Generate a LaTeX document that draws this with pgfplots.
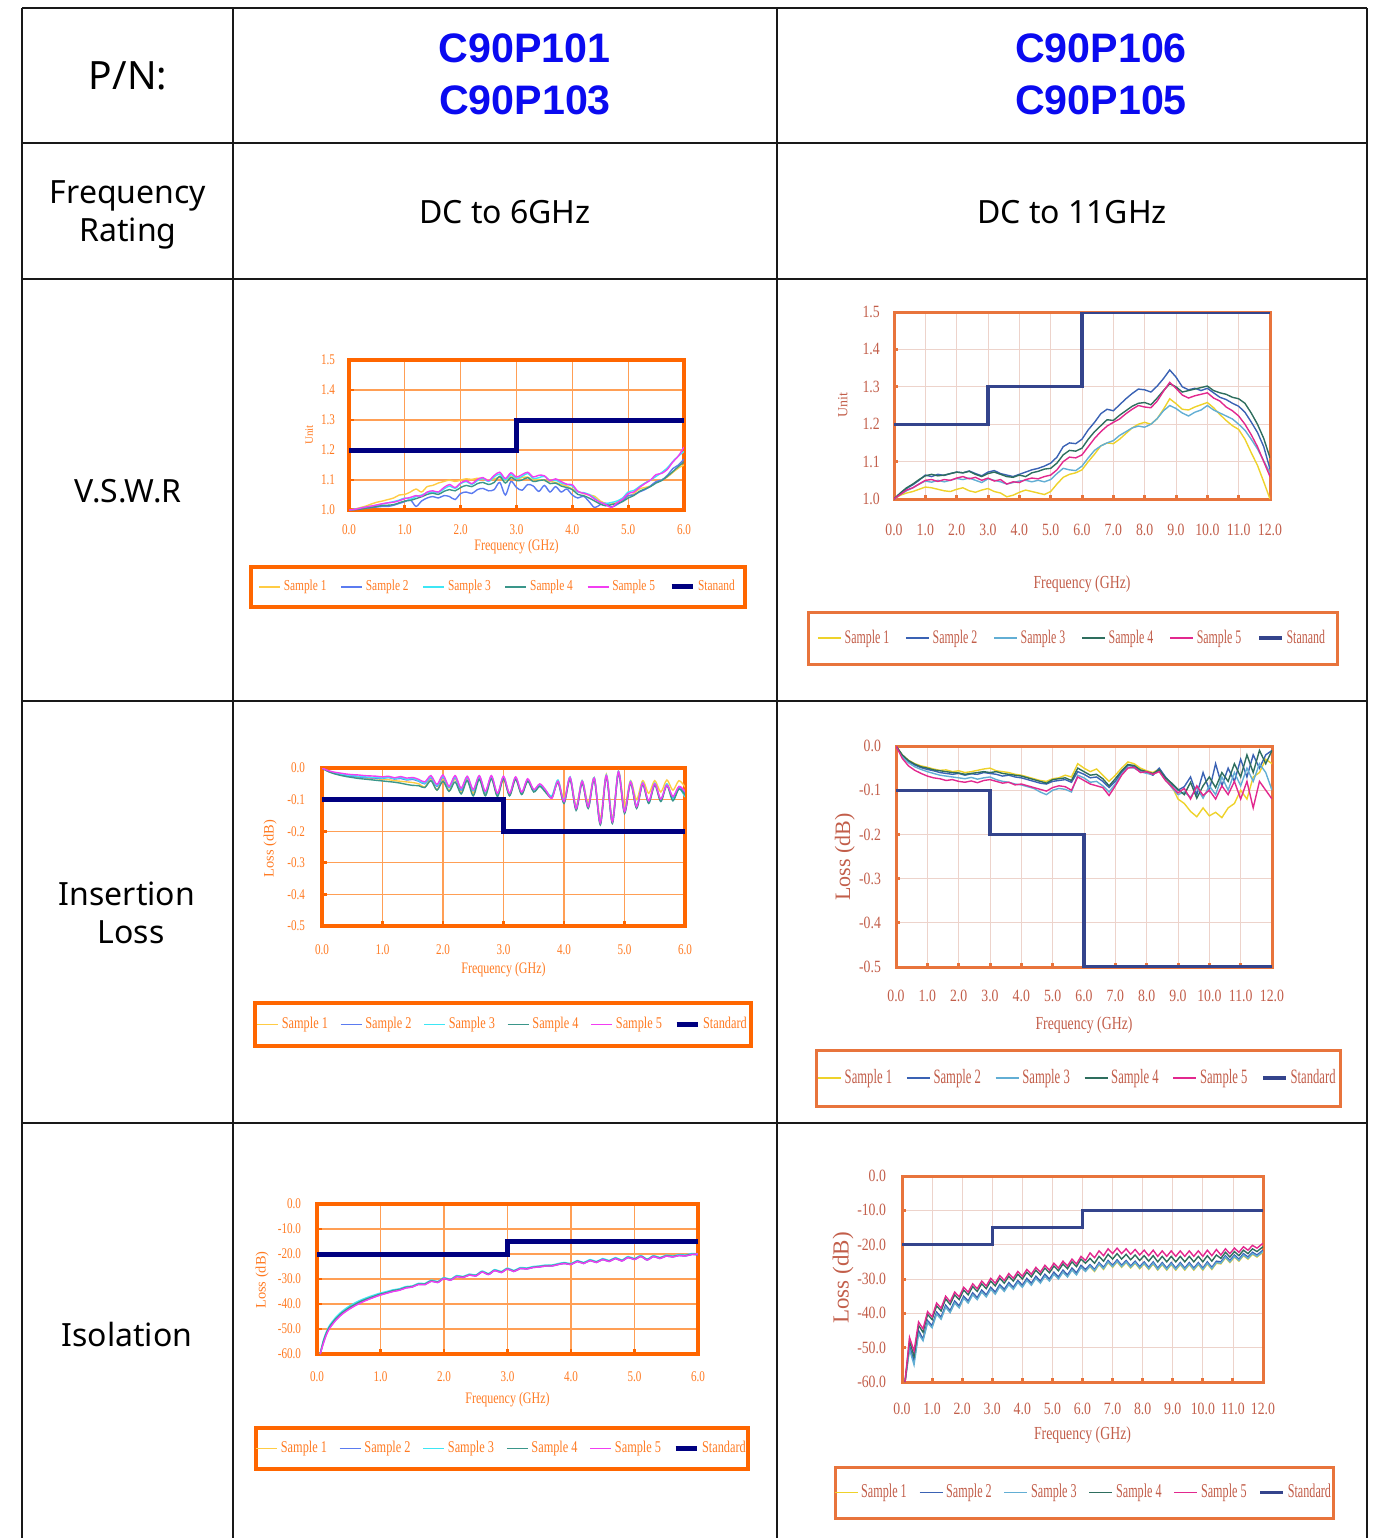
\documentclass[border=0pt]{standalone}
\usepackage{fontspec}
\setmainfont{Noto Sans}
\newfontfamily\pnfont{Liberation Sans}
\newfontfamily\cfa[FakeStretch=0.75]{Liberation Serif}
\newfontfamily\cfb[FakeStretch=0.8]{Liberation Serif}
\newfontfamily\cfc[FakeStretch=0.62]{Liberation Serif}
\newfontfamily\cfn{Liberation Serif}
\usepackage{pgfplots}
\usepackage{pgfplotstable}
\pgfplotsset{compat=1.18}

\newcommand\fs[1]{\fontsize{#1}{#1}\selectfont}
\def\pxu{0.5pt}

\definecolor{lfr}{HTML}{FF6600}
\definecolor{lgrid}{HTML}{FF9F55}
\definecolor{ltxt}{HTML}{FF7A22}
\definecolor{la}{HTML}{FFCC44}
\definecolor{lb}{HTML}{5B7BF0}
\definecolor{lc}{HTML}{3DE6F5}
\definecolor{ld}{HTML}{3A968A}
\definecolor{le}{HTML}{F23DF2}
\definecolor{lstd}{HTML}{000080}
\definecolor{rfr}{HTML}{E8743C}
\definecolor{rgrid}{HTML}{EDD3CB}
\definecolor{rtxt}{HTML}{C25E4A}
\definecolor{ra}{HTML}{EED22A}
\definecolor{rb}{HTML}{3A62B4}
\definecolor{rc}{HTML}{62AED4}
\definecolor{rd}{HTML}{2E6E5E}
\definecolor{re}{HTML}{E2288E}
\definecolor{rstd}{HTML}{34448C}
\definecolor{pnblue}{HTML}{0A0AF0}

\pgfplotsset{
  chart/.style={
    scale only axis, grid=major, tick align=inside, tick pos=left,
    /pgf/number format/fixed, /pgf/number format/fixed zerofill,
    /pgf/number format/precision=1, /pgf/number format/assume math mode=true,
    legend columns=6,
    every axis plot/.append style={no marks, line width=0.7pt},
  },
  lch/.style={chart,
    axis line style={lfr,line width=2pt},
    grid style={lgrid,line width=0.6pt},
    major tick length=2.5pt, tick style={lfr,line width=1.4pt},
    xmin=0, xmax=6, xtick={0,1,...,6},
    xticklabel style={font=\cfa\fs{7.4}, text=ltxt},
    yticklabel style={font=\cfa\fs{7.4}, text=ltxt},
    xlabel style={font=\cfa\fs{8}, text=ltxt, anchor=center},
    ylabel style={font=\cfn\fs{7.2}, text=ltxt, anchor=center},
    legend style={draw=none, fill=none, anchor=center, font=\cfa\fs{7.6}, text=ltxt,
      inner sep=0pt, nodes={inner xsep=1.5pt, inner ysep=1pt},
      /tikz/every even column/.append style={column sep=5.5pt}},
    legend image code/.code={\draw[##1,line cap=butt] (0pt,0pt) -- (10.5pt,0pt);},
  },
  rch/.style={chart,
    axis line style={rfr,line width=1.5pt},
    grid style={rgrid,line width=0.4pt},
    major tick length=2pt, tick style={rfr,line width=1.5pt},
    xmin=0, xmax=12, xtick={0,1,...,12},
    xticklabel style={font=\cfb\fs{8.6}, text=rtxt},
    yticklabel style={font=\cfb\fs{8.6}, text=rtxt},
    xlabel style={font=\cfa\fs{9.2}, text=rtxt, anchor=center},
    ylabel style={font=\cfn\fs{9.4}, text=rtxt, anchor=center},
    legend style={draw=none, fill=none, anchor=center, font=\cfc\fs{9.6}, text=rtxt,
      inner sep=0pt, nodes={inner xsep=1.5pt, inner ysep=1pt},
      /tikz/every even column/.append style={column sep=6.5pt}},
    legend image code/.code={\draw[##1,line cap=butt] (0pt,0pt) -- (11.5pt,0pt);},
  },
}

% V.S.W.R, DC to 6GHz
\pgfplotstableread{
x a b c d e
0.0 1.000 1.000 1.000 1.000 1.000
0.1 1.003 1.002 1.002 1.001 1.002
0.2 1.008 1.004 1.006 1.003 1.006
0.3 1.013 1.006 1.010 1.006 1.010
0.4 1.020 1.008 1.013 1.009 1.013
0.5 1.026 1.010 1.016 1.012 1.017
0.6 1.030 1.012 1.020 1.015 1.021
0.7 1.035 1.012 1.024 1.016 1.024
0.8 1.040 1.016 1.028 1.018 1.026
0.9 1.050 1.022 1.033 1.024 1.031
1.0 1.052 1.028 1.040 1.030 1.038
1.1 1.060 1.034 1.036 1.032 1.042
1.2 1.070 1.012 1.045 1.038 1.048
1.3 1.060 1.030 1.050 1.044 1.046
1.4 1.078 1.040 1.058 1.052 1.060
1.5 1.082 1.045 1.060 1.056 1.064
1.6 1.090 1.040 1.058 1.052 1.060
1.7 1.095 1.048 1.070 1.062 1.075
1.8 1.100 1.045 1.080 1.068 1.085
1.9 1.095 1.035 1.072 1.064 1.075
2.0 1.100 1.055 1.088 1.075 1.090
2.1 1.104 1.060 1.095 1.082 1.098
2.2 1.102 1.055 1.085 1.078 1.088
2.3 1.106 1.068 1.098 1.088 1.102
2.4 1.104 1.072 1.105 1.092 1.108
2.5 1.100 1.064 1.095 1.085 1.098
2.6 1.104 1.068 1.110 1.092 1.115
2.7 1.108 1.092 1.120 1.112 1.126
2.8 1.098 1.050 1.100 1.090 1.105
2.9 1.112 1.095 1.118 1.108 1.124
3.0 1.105 1.075 1.105 1.098 1.110
3.1 1.108 1.066 1.112 1.100 1.118
3.2 1.110 1.085 1.122 1.108 1.126
3.3 1.100 1.080 1.105 1.095 1.110
3.4 1.102 1.062 1.108 1.098 1.116
3.5 1.098 1.082 1.112 1.100 1.114
3.6 1.095 1.060 1.098 1.088 1.098
3.7 1.092 1.078 1.100 1.090 1.104
3.8 1.085 1.060 1.090 1.080 1.095
3.9 1.080 1.070 1.085 1.075 1.086
4.0 1.070 1.050 1.080 1.068 1.084
4.1 1.062 1.040 1.060 1.052 1.062
4.2 1.055 1.046 1.058 1.048 1.056
4.3 1.050 1.028 1.052 1.040 1.050
4.4 1.046 1.008 1.040 1.030 1.036
4.5 1.030 1.018 1.025 1.020 1.026
4.6 1.022 1.022 1.022 1.014 1.018
4.7 1.020 1.010 1.025 1.018 1.008
4.8 1.025 1.018 1.030 1.022 1.024
4.9 1.035 1.030 1.040 1.028 1.036
5.0 1.045 1.048 1.060 1.040 1.055
5.1 1.055 1.050 1.065 1.048 1.060
5.2 1.070 1.060 1.078 1.062 1.075
5.3 1.075 1.068 1.090 1.070 1.088
5.4 1.080 1.080 1.100 1.078 1.100
5.5 1.092 1.095 1.112 1.090 1.118
5.6 1.100 1.100 1.125 1.098 1.122
5.7 1.110 1.115 1.140 1.112 1.135
5.8 1.125 1.138 1.162 1.128 1.160
5.9 1.140 1.150 1.180 1.145 1.180
6.0 1.150 1.170 1.195 1.160 1.210
}\tvl

% V.S.W.R, DC to 11GHz
\pgfplotstableread{
x a b c d e
0.0 1.000 1.000 1.000 1.000 1.000
0.2 1.010 1.015 1.012 1.016 1.012
0.4 1.016 1.028 1.022 1.030 1.024
0.6 1.020 1.038 1.030 1.040 1.030
0.8 1.026 1.050 1.040 1.052 1.040
1.0 1.032 1.064 1.048 1.062 1.050
1.2 1.030 1.060 1.045 1.066 1.052
1.4 1.026 1.066 1.050 1.062 1.047
1.6 1.022 1.063 1.046 1.064 1.052
1.8 1.020 1.068 1.050 1.068 1.050
2.0 1.026 1.072 1.055 1.072 1.056
2.2 1.030 1.070 1.052 1.070 1.060
2.4 1.022 1.075 1.056 1.074 1.054
2.6 1.018 1.068 1.050 1.066 1.058
2.8 1.024 1.062 1.044 1.060 1.050
3.0 1.028 1.072 1.054 1.068 1.056
3.2 1.020 1.076 1.050 1.072 1.048
3.4 1.016 1.068 1.046 1.066 1.052
3.6 1.006 1.064 1.040 1.060 1.040
3.8 1.010 1.060 1.044 1.058 1.046
4.0 1.018 1.066 1.048 1.064 1.044
4.2 1.024 1.072 1.050 1.060 1.052
4.4 1.020 1.078 1.046 1.070 1.056
4.6 1.016 1.082 1.050 1.074 1.054
4.8 1.012 1.088 1.046 1.080 1.060
5.0 1.020 1.096 1.052 1.082 1.064
5.2 1.040 1.112 1.068 1.096 1.078
5.4 1.058 1.140 1.082 1.118 1.100
5.6 1.066 1.150 1.078 1.130 1.112
5.8 1.070 1.148 1.076 1.128 1.110
6.0 1.078 1.160 1.088 1.136 1.118
6.2 1.100 1.185 1.110 1.160 1.140
6.4 1.120 1.205 1.130 1.180 1.162
6.6 1.142 1.228 1.142 1.196 1.180
6.8 1.150 1.240 1.150 1.212 1.195
7.0 1.148 1.236 1.156 1.210 1.205
7.2 1.160 1.252 1.170 1.224 1.214
7.4 1.175 1.268 1.180 1.236 1.228
7.6 1.190 1.282 1.190 1.248 1.240
7.8 1.200 1.294 1.195 1.256 1.250
8.0 1.205 1.292 1.192 1.258 1.246
8.2 1.200 1.286 1.200 1.252 1.244
8.4 1.215 1.302 1.215 1.270 1.262
8.6 1.240 1.322 1.236 1.290 1.288
8.8 1.268 1.345 1.250 1.308 1.312
9.0 1.255 1.326 1.242 1.300 1.296
9.2 1.240 1.300 1.230 1.286 1.278
9.4 1.238 1.292 1.222 1.290 1.270
9.6 1.246 1.296 1.232 1.294 1.276
9.8 1.252 1.290 1.238 1.298 1.280
10.0 1.258 1.296 1.250 1.302 1.284
10.2 1.244 1.284 1.238 1.290 1.270
10.4 1.226 1.272 1.230 1.284 1.262
10.6 1.210 1.266 1.222 1.280 1.246
10.8 1.196 1.256 1.214 1.272 1.236
11.0 1.186 1.248 1.200 1.268 1.222
11.2 1.160 1.232 1.184 1.256 1.200
11.4 1.124 1.206 1.160 1.230 1.172
11.6 1.090 1.178 1.134 1.200 1.140
11.8 1.046 1.140 1.102 1.162 1.100
12.0 1.000 1.080 1.070 1.110 1.060
}\tvr

% Insertion loss, DC to 6GHz
\pgfplotstableread{
x a b c d e
0.0 0 0 0 0 0
0.1 -0.010 -0.010 -0.009 -0.011 -0.008
0.2 -0.016 -0.017 -0.015 -0.018 -0.013
0.3 -0.020 -0.021 -0.019 -0.023 -0.016
0.4 -0.024 -0.024 -0.022 -0.027 -0.019
0.5 -0.027 -0.026 -0.024 -0.030 -0.021
0.6 -0.029 -0.028 -0.026 -0.033 -0.022
0.7 -0.031 -0.030 -0.028 -0.035 -0.024
0.8 -0.033 -0.031 -0.029 -0.037 -0.025
0.9 -0.034 -0.032 -0.030 -0.039 -0.026
1.0 -0.036 -0.033 -0.032 -0.041 -0.028
1.1 -0.037 -0.030 -0.029 -0.043 -0.026
1.2 -0.040 -0.035 -0.034 -0.045 -0.031
1.3 -0.042 -0.033 -0.030 -0.048 -0.027
1.4 -0.044 -0.038 -0.036 -0.052 -0.032
1.5 -0.046 -0.036 -0.033 -0.055 -0.030
1.6 -0.050 -0.042 -0.040 -0.056 -0.036
1.7 -0.060 -0.050 -0.048 -0.062 -0.044
1.8 -0.035 -0.030 -0.028 -0.040 -0.024
1.9 -0.070 -0.058 -0.055 -0.070 -0.052
2.0 -0.032 -0.028 -0.026 -0.042 -0.022
2.1 -0.072 -0.062 -0.060 -0.074 -0.058
2.2 -0.034 -0.030 -0.028 -0.044 -0.024
2.3 -0.078 -0.070 -0.066 -0.082 -0.064
2.4 -0.036 -0.030 -0.028 -0.040 -0.026
2.5 -0.080 -0.072 -0.070 -0.088 -0.068
2.6 -0.032 -0.028 -0.026 -0.036 -0.024
2.7 -0.084 -0.078 -0.076 -0.088 -0.074
2.8 -0.030 -0.028 -0.026 -0.034 -0.024
2.9 -0.088 -0.084 -0.082 -0.090 -0.080
3.0 -0.032 -0.030 -0.028 -0.034 -0.026
3.1 -0.086 -0.084 -0.082 -0.088 -0.080
3.2 -0.034 -0.032 -0.030 -0.036 -0.028
3.3 -0.082 -0.080 -0.078 -0.084 -0.076
3.4 -0.040 -0.038 -0.036 -0.042 -0.034
3.5 -0.074 -0.072 -0.070 -0.076 -0.068
3.6 -0.056 -0.054 -0.052 -0.058 -0.050
3.7 -0.076 -0.074 -0.072 -0.078 -0.070
3.8 -0.090 -0.092 -0.088 -0.094 -0.096
3.9 -0.040 -0.044 -0.038 -0.046 -0.042
4.0 -0.100 -0.110 -0.104 -0.112 -0.106
4.1 -0.030 -0.032 -0.028 -0.036 -0.030
4.2 -0.120 -0.130 -0.126 -0.134 -0.128
4.3 -0.040 -0.044 -0.040 -0.048 -0.042
4.4 -0.110 -0.124 -0.120 -0.128 -0.122
4.5 -0.030 -0.034 -0.030 -0.036 -0.032
4.6 -0.160 -0.176 -0.172 -0.180 -0.174
4.7 -0.020 -0.026 -0.022 -0.028 -0.024
4.8 -0.160 -0.170 -0.166 -0.176 -0.170
4.9 -0.010 -0.014 -0.010 -0.016 -0.012
5.0 -0.120 -0.140 -0.136 -0.144 -0.138
5.1 -0.040 -0.046 -0.042 -0.048 -0.044
5.2 -0.100 -0.124 -0.120 -0.128 -0.122
5.3 -0.040 -0.050 -0.046 -0.052 -0.048
5.4 -0.080 -0.108 -0.110 -0.112 -0.104
5.5 -0.040 -0.050 -0.048 -0.054 -0.050
5.6 -0.076 -0.100 -0.104 -0.106 -0.098
5.7 -0.038 -0.052 -0.050 -0.056 -0.054
5.8 -0.070 -0.094 -0.100 -0.104 -0.090
5.9 -0.040 -0.060 -0.064 -0.066 -0.058
6.0 -0.060 -0.080 -0.092 -0.086 -0.074
}\til

% Insertion loss, DC to 11GHz
\pgfplotstableread{
x a b c d e
0.0 0 0 0 0 0
0.2 -0.020 -0.022 -0.024 -0.020 -0.028
0.4 -0.032 -0.035 -0.038 -0.033 -0.045
0.6 -0.040 -0.043 -0.047 -0.041 -0.055
0.8 -0.045 -0.049 -0.053 -0.047 -0.062
1.0 -0.048 -0.053 -0.058 -0.050 -0.068
1.2 -0.052 -0.056 -0.062 -0.054 -0.072
1.4 -0.055 -0.060 -0.066 -0.056 -0.074
1.6 -0.054 -0.062 -0.068 -0.058 -0.078
1.8 -0.058 -0.064 -0.070 -0.060 -0.076
2.0 -0.056 -0.062 -0.072 -0.061 -0.080
2.2 -0.060 -0.066 -0.074 -0.064 -0.082
2.4 -0.058 -0.063 -0.071 -0.062 -0.079
2.6 -0.055 -0.064 -0.075 -0.060 -0.083
2.8 -0.052 -0.060 -0.072 -0.058 -0.078
3.0 -0.050 -0.062 -0.070 -0.060 -0.076
3.2 -0.056 -0.064 -0.076 -0.058 -0.080
3.4 -0.058 -0.068 -0.080 -0.062 -0.084
3.6 -0.060 -0.066 -0.082 -0.064 -0.082
3.8 -0.064 -0.070 -0.086 -0.066 -0.088
4.0 -0.066 -0.072 -0.088 -0.068 -0.086
4.2 -0.070 -0.076 -0.092 -0.072 -0.090
4.4 -0.074 -0.080 -0.096 -0.076 -0.094
4.6 -0.078 -0.084 -0.104 -0.080 -0.098
4.8 -0.080 -0.086 -0.110 -0.084 -0.102
5.0 -0.074 -0.080 -0.100 -0.076 -0.094
5.2 -0.072 -0.078 -0.096 -0.074 -0.090
5.4 -0.066 -0.076 -0.098 -0.072 -0.092
5.6 -0.070 -0.082 -0.104 -0.078 -0.100
5.8 -0.040 -0.058 -0.066 -0.050 -0.070
6.0 -0.050 -0.064 -0.072 -0.058 -0.078
6.2 -0.058 -0.072 -0.082 -0.066 -0.086
6.4 -0.052 -0.070 -0.080 -0.064 -0.090
6.6 -0.066 -0.080 -0.090 -0.074 -0.094
6.8 -0.080 -0.094 -0.104 -0.090 -0.112
7.0 -0.066 -0.080 -0.086 -0.074 -0.090
7.2 -0.050 -0.060 -0.064 -0.056 -0.066
7.4 -0.036 -0.044 -0.048 -0.042 -0.050
7.6 -0.040 -0.046 -0.050 -0.044 -0.048
7.8 -0.050 -0.056 -0.058 -0.054 -0.060
8.0 -0.056 -0.060 -0.062 -0.058 -0.058
8.2 -0.060 -0.066 -0.064 -0.062 -0.064
8.4 -0.052 -0.050 -0.056 -0.054 -0.058
8.6 -0.074 -0.070 -0.076 -0.072 -0.078
8.8 -0.090 -0.086 -0.094 -0.084 -0.092
9.0 -0.120 -0.100 -0.110 -0.098 -0.106
9.2 -0.130 -0.092 -0.104 -0.110 -0.096
9.4 -0.148 -0.070 -0.116 -0.082 -0.120
9.6 -0.160 -0.110 -0.094 -0.118 -0.090
9.8 -0.140 -0.060 -0.118 -0.090 -0.112
10.0 -0.158 -0.100 -0.090 -0.070 -0.100
10.2 -0.150 -0.040 -0.110 -0.094 -0.120
10.4 -0.162 -0.090 -0.070 -0.060 -0.090
10.6 -0.140 -0.050 -0.100 -0.080 -0.110
10.8 -0.130 -0.080 -0.060 -0.040 -0.080
11.0 -0.100 -0.030 -0.090 -0.070 -0.120
11.2 -0.120 -0.070 -0.050 -0.020 -0.080
11.4 -0.070 -0.020 -0.080 -0.060 -0.140
11.6 -0.060 -0.050 -0.040 -0.010 -0.080
11.8 -0.030 -0.020 -0.060 -0.040 -0.100
12.0 -0.040 -0.010 -0.100 -0.010 -0.120
}\tir

% Isolation, DC to 6GHz
\pgfplotstableread{
x a b c d e
0.05 -60 -60 -60 -60 -60
0.1 -55.0 -55.5 -54.5 -55.0 -55.8
0.15 -51.5 -52.0 -51.0 -51.5 -52.2
0.2 -49.0 -49.5 -48.5 -49.0 -49.7
0.3 -45.8 -46.2 -45.2 -45.8 -46.4
0.4 -43.4 -43.8 -42.8 -43.4 -44.0
0.5 -41.6 -42.0 -41.0 -41.6 -42.2
0.6 -40.1 -40.5 -39.5 -40.1 -40.7
0.7 -38.8 -39.2 -38.3 -38.8 -39.4
0.8 -37.8 -38.1 -37.3 -37.8 -38.3
0.9 -36.9 -37.2 -36.4 -36.9 -37.3
1.0 -36.0 -36.3 -35.6 -36.0 -36.4
1.1 -35.4 -35.6 -35.0 -35.4 -35.7
1.2 -34.6 -34.9 -34.3 -34.6 -35.0
1.3 -34.2 -34.4 -33.9 -34.2 -34.5
1.4 -33.2 -33.5 -33.0 -33.3 -33.6
1.5 -33.0 -33.2 -32.8 -33.0 -33.2
1.6 -31.9 -32.1 -31.7 -32.0 -32.2
1.7 -32.0 -32.2 -31.8 -32.0 -32.3
1.8 -30.6 -30.8 -30.4 -30.7 -30.9
1.9 -31.2 -31.4 -31.0 -31.2 -31.4
2.0 -29.6 -29.8 -29.4 -29.7 -29.8
2.1 -30.3 -30.5 -30.1 -30.3 -30.5
2.2 -28.8 -29.0 -28.6 -28.9 -29.0
2.3 -29.2 -29.4 -29.0 -29.2 -29.4
2.4 -28.2 -28.4 -28.0 -28.3 -28.4
2.5 -28.6 -28.8 -28.4 -28.6 -28.8
2.6 -27.0 -27.2 -26.8 -27.1 -27.2
2.7 -28.0 -28.2 -27.8 -28.0 -28.2
2.8 -26.4 -26.6 -26.2 -26.5 -26.6
2.9 -27.2 -27.4 -27.0 -27.2 -27.4
3.0 -25.8 -26.0 -25.6 -25.9 -26.0
3.1 -26.8 -27.0 -26.6 -26.8 -27.0
3.2 -25.6 -25.8 -25.4 -25.7 -25.8
3.3 -25.8 -26.0 -25.6 -25.8 -26.0
3.4 -25.2 -25.4 -25.0 -25.3 -25.4
3.5 -25.0 -25.2 -24.8 -25.0 -25.2
3.6 -24.6 -24.8 -24.4 -24.7 -24.8
3.7 -24.6 -24.8 -24.4 -24.6 -24.8
3.8 -24.0 -24.2 -23.8 -24.1 -24.2
3.9 -23.6 -23.8 -23.4 -23.6 -23.8
4.0 -24.0 -24.2 -23.8 -24.1 -24.2
4.1 -22.8 -23.0 -22.6 -22.8 -23.0
4.2 -23.6 -23.8 -23.4 -23.6 -23.8
4.3 -22.4 -22.6 -22.2 -22.5 -22.6
4.4 -23.2 -23.4 -23.0 -23.2 -23.4
4.5 -22.0 -22.2 -21.8 -22.1 -22.2
4.6 -22.8 -23.0 -22.6 -22.8 -23.0
4.7 -21.6 -21.8 -21.4 -21.7 -21.8
4.8 -22.6 -22.8 -22.4 -22.6 -22.8
4.9 -21.2 -21.4 -21.0 -21.3 -21.4
5.0 -22.0 -22.2 -21.8 -22.0 -22.2
5.1 -20.8 -21.0 -20.6 -20.9 -21.0
5.2 -22.2 -22.4 -22.0 -22.2 -22.4
5.3 -20.8 -21.0 -20.6 -20.9 -21.0
5.4 -21.6 -21.8 -21.4 -21.6 -21.8
5.5 -20.6 -20.8 -20.4 -20.7 -20.8
5.6 -21.0 -21.2 -20.8 -21.0 -21.2
5.7 -20.4 -20.6 -20.2 -20.5 -20.6
5.8 -20.6 -20.8 -20.4 -20.6 -20.8
5.9 -20.0 -20.2 -19.8 -20.1 -20.2
6.0 -20.2 -20.4 -20.0 -20.2 -20.0
}\tsl

% Isolation, DC to 11GHz
\pgfplotstableread{
x a b c d e
0.10 -60.0 -60.0 -60.0 -60.0 -60.0
0.25 -50.0 -49.5 -50.5 -48.0 -47.0
0.40 -53.5 -54.0 -55.0 -52.5 -51.0
0.55 -45.5 -45.0 -46.0 -43.5 -42.5
0.70 -47.5 -47.5 -48.0 -45.5 -44.5
0.85 -42.5 -42.1 -42.7 -40.3 -39.5
1.00 -44.0 -43.6 -44.2 -41.8 -41.0
1.15 -40.0 -39.6 -40.2 -37.8 -37.0
1.30 -41.5 -41.1 -41.7 -39.3 -38.5
1.45 -38.0 -37.6 -38.2 -35.8 -35.0
1.60 -39.6 -39.2 -39.8 -37.4 -36.6
1.75 -36.8 -36.4 -37.0 -34.6 -33.8
1.90 -38.2 -37.8 -38.4 -36.0 -35.2
2.05 -35.4 -35.0 -35.6 -33.2 -32.4
2.20 -36.8 -36.4 -37.0 -34.6 -33.8
2.35 -34.4 -34.0 -34.6 -32.2 -31.4
2.50 -35.8 -35.4 -36.0 -33.6 -32.8
2.65 -33.6 -33.2 -33.8 -31.4 -30.6
2.80 -35.0 -34.6 -35.2 -32.8 -32.0
2.95 -32.8 -32.4 -33.0 -30.6 -29.8
3.10 -34.2 -33.8 -34.4 -32.0 -31.2
3.25 -32.0 -31.6 -32.2 -29.8 -29.0
3.40 -33.4 -33.0 -33.6 -31.2 -30.4
3.55 -31.4 -31.0 -31.6 -29.2 -28.4
3.70 -32.8 -32.4 -33.0 -30.6 -29.8
3.85 -30.8 -30.4 -31.0 -28.6 -27.8
4.00 -32.2 -31.8 -32.4 -30.0 -29.2
4.15 -30.2 -29.8 -30.4 -28.0 -27.2
4.30 -31.6 -31.2 -31.8 -29.4 -28.6
4.45 -29.6 -29.2 -29.8 -27.4 -26.6
4.60 -31.0 -30.6 -31.2 -28.8 -28.0
4.75 -29.0 -28.6 -29.2 -26.8 -26.0
4.90 -30.4 -30.0 -30.6 -28.2 -27.4
5.05 -28.4 -28.0 -28.6 -26.2 -25.4
5.20 -29.8 -29.4 -30.0 -27.6 -26.8
5.35 -27.8 -27.4 -28.0 -25.6 -24.8
5.50 -29.2 -28.8 -29.4 -27.0 -26.2
5.65 -27.2 -26.8 -27.4 -25.0 -24.2
5.80 -28.6 -28.2 -28.8 -26.4 -25.6
5.95 -26.4 -26.0 -26.6 -24.2 -23.4
6.10 -27.6 -27.2 -27.8 -25.4 -24.6
6.25 -26.4 -25.8 -26.2 -24.0 -22.4
6.40 -27.8 -27.2 -27.6 -25.4 -23.8
6.55 -25.8 -25.2 -25.6 -23.4 -21.8
6.70 -27.2 -26.6 -27.0 -24.8 -23.2
6.85 -25.2 -24.6 -25.0 -22.8 -21.2
7.00 -26.6 -26.0 -26.4 -24.2 -22.6
7.15 -25.0 -24.4 -24.8 -22.6 -21.0
7.30 -26.6 -26.0 -26.4 -24.2 -22.6
7.45 -25.2 -24.6 -25.0 -22.8 -21.2
7.60 -26.8 -26.2 -26.6 -24.4 -22.8
7.75 -25.4 -24.8 -25.2 -23.0 -21.4
7.90 -27.0 -26.4 -26.8 -24.6 -23.0
8.05 -25.6 -25.0 -25.4 -23.2 -21.6
8.20 -27.2 -26.6 -27.0 -24.8 -23.2
8.35 -25.6 -25.0 -25.4 -23.2 -21.6
8.50 -27.4 -26.8 -27.2 -25.0 -23.4
8.65 -25.8 -25.2 -25.6 -23.4 -21.8
8.80 -27.4 -26.8 -27.2 -25.0 -23.4
8.95 -25.8 -25.2 -25.6 -23.4 -21.8
9.10 -27.4 -26.8 -27.2 -25.0 -23.4
9.25 -25.8 -25.2 -25.6 -23.4 -21.8
9.40 -27.4 -26.8 -27.2 -25.0 -23.4
9.55 -25.8 -25.2 -25.6 -23.4 -21.8
9.70 -27.4 -26.8 -27.2 -25.0 -23.4
9.85 -25.8 -25.2 -25.6 -23.4 -21.8
10.00 -27.4 -26.8 -27.2 -25.0 -23.4
10.15 -25.6 -25.0 -25.4 -23.2 -21.6
10.30 -27.2 -26.6 -27.0 -24.8 -23.2
10.45 -25.4 -24.8 -25.2 -23.0 -21.4
10.60 -25.6 -25.0 -25.4 -24.0 -23.0
10.75 -23.8 -23.2 -23.6 -22.2 -21.2
10.90 -25.2 -24.6 -25.0 -23.6 -22.6
11.05 -23.6 -23.0 -23.4 -22.0 -21.0
11.20 -24.8 -24.2 -24.6 -23.2 -22.2
11.35 -23.2 -22.6 -23.0 -21.6 -20.6
11.50 -24.2 -23.6 -24.0 -22.6 -21.6
11.65 -22.8 -22.2 -22.6 -21.2 -20.2
11.80 -23.6 -23.0 -23.4 -22.0 -21.0
12.00 -22.2 -21.6 -22.0 -20.6 -19.6
}\tsr

\begin{document}
\begin{tikzpicture}
\useasboundingbox (0,0) rectangle (686pt,-769pt);

\begin{scope}[x=0.5pt,y=-0.5pt]
  % table rules
  \foreach \yy in {8,143,279,701,1123}
    \draw[line width=1pt,black!90] (22,\yy) -- (1367,\yy);
  \foreach \xx in {22,233,777,1367}
    \draw[line width=1pt,black!90] (\xx,8) -- (\xx,1538);
  % header texts
  \node[anchor=base,font=\fs{19.5}] at (128,89) {P/N:};
  \node[anchor=base,font=\pnfont\bfseries\fs{20.6},text=pnblue] at (524.5,62) {C90P101};
  \node[anchor=base,font=\pnfont\bfseries\fs{20.6},text=pnblue] at (525,114) {C90P103};
  \node[anchor=base,font=\pnfont\bfseries\fs{20.6},text=pnblue] at (1101,62) {C90P106};
  \node[anchor=base,font=\pnfont\bfseries\fs{20.6},text=pnblue] at (1101,114) {C90P105};
  \node[anchor=base,font=\fs{16}] at (128,203) {Frequency};
  \node[anchor=base,font=\fs{16}] at (128,241) {Rating};
  \node[anchor=base,font=\fs{16}] at (505,223) {DC to 6GHz};
  \node[anchor=base,font=\fs{16}] at (1072,223) {DC to 11GHz};
  \node[anchor=base,font=\fs{16}] at (128,502) {V.S.W.R};
  \node[anchor=base,font=\fs{16}] at (127,905) {Insertion};
  \node[anchor=base,font=\fs{16}] at (131,943) {Loss};
  \node[anchor=base,font=\fs{16}] at (127,1346) {Isolation};
  % legend frames
  \draw[lfr,line width=2pt] (251,567) rectangle (745,607);
  \draw[rfr,line width=1.5pt] (808,612) rectangle (1337,664);
  \draw[lfr,line width=2pt] (255,1003) rectangle (751,1046);
  \draw[rfr,line width=1.5pt] (816,1050) rectangle (1340,1106);
  \draw[lfr,line width=2pt] (256,1428) rectangle (748,1469);
  \draw[rfr,line width=1.5pt] (835,1467) rectangle (1333,1518);
\end{scope}

% V.S.W.R left
\begin{axis}[lch, at={(349*\pxu,-510*\pxu)}, anchor=south west,
  width=167.5pt, height=75pt,
  ymin=1, ymax=1.5, ytick={1,1.1,1.2,1.3,1.4,1.5},
  xlabel={Frequency (GHz)}, ylabel={Unit},
  xlabel style={at={(axis description cs:0.5,-0.247)}},
  ylabel style={at={(axis description cs:-0.119,0.5)}, font=\cfn\fs{5.6}},
  xticklabel style={yshift=-4pt}, yticklabel style={xshift=-3.5pt},
  legend style={at={(0.445,-0.513)}}]
  \addplot[la, smooth] table[x=x,y=a]{\tvl};
  \addplot[lb, smooth] table[x=x,y=b]{\tvl};
  \addplot[lc, smooth] table[x=x,y=c]{\tvl};
  \addplot[ld, smooth] table[x=x,y=d]{\tvl};
  \addplot[le, smooth] table[x=x,y=e]{\tvl};
  \addplot[lstd, line width=2.5pt] coordinates {(0,1.2) (3,1.2) (3,1.3) (6,1.3)};
  \legend{Sample 1,Sample 2,Sample 3,Sample 4,Sample 5,Stanand}
\end{axis}

% V.S.W.R right
\begin{axis}[rch, at={(894*\pxu,-499*\pxu)}, anchor=south west,
  width=188pt, height=93.5pt,
  ymin=1, ymax=1.5, ytick={1,1.1,1.2,1.3,1.4,1.5},
  xlabel={Frequency (GHz)}, ylabel={Unit},
  xlabel style={at={(axis description cs:0.5,-0.455)}},
  ylabel style={at={(axis description cs:-0.136,0.503)}, font=\cfn\fs{7}},
  xticklabel style={yshift=-9pt}, yticklabel style={xshift=-3.6pt},
  legend style={at={(0.475,-0.743)}}]
  \addplot[ra] table[x=x,y=a]{\tvr};
  \addplot[rb] table[x=x,y=b]{\tvr};
  \addplot[rc] table[x=x,y=c]{\tvr};
  \addplot[rd] table[x=x,y=d]{\tvr};
  \addplot[re] table[x=x,y=e]{\tvr};
  \addplot[rstd, line width=1.6pt] coordinates {(0,1.2) (3,1.2) (3,1.3) (6,1.3) (6,1.5) (12,1.5)};
  \legend{Sample 1,Sample 2,Sample 3,Sample 4,Sample 5,Stanand}
\end{axis}

% Insertion loss left
\begin{axis}[lch, at={(322*\pxu,-926*\pxu)}, anchor=south west,
  width=181.5pt, height=79pt,
  ymin=-0.5, ymax=0, ytick={-0.5,-0.4,-0.3,-0.2,-0.1,0},
  xlabel={Frequency (GHz)}, ylabel={Loss (dB)},
  xlabel style={at={(axis description cs:0.5,-0.278)}},
  ylabel style={at={(axis description cs:-0.143,0.49)}},
  xticklabel style={yshift=-6pt}, yticklabel style={xshift=-5pt},
  legend style={at={(0.499,-0.623)}, font=\cfa\fs{8.2},
    /tikz/every even column/.append style={column sep=4.5pt}}]
  \addplot[la, smooth] table[x=x,y=a]{\til};
  \addplot[lb, smooth] table[x=x,y=b]{\til};
  \addplot[lc, smooth] table[x=x,y=c]{\til};
  \addplot[ld, smooth] table[x=x,y=d]{\til};
  \addplot[le, smooth] table[x=x,y=e]{\til};
  \addplot[lstd, line width=2.5pt] coordinates {(0,-0.1) (3,-0.1) (3,-0.2) (6,-0.2)};
  \legend{Sample 1,Sample 2,Sample 3,Sample 4,Sample 5,Standard}
\end{axis}

% Insertion loss right
\begin{axis}[rch, at={(896*\pxu,-967*\pxu)}, anchor=south west,
  width=188pt, height=110.5pt,
  ymin=-0.5, ymax=0, ytick={-0.5,-0.4,-0.3,-0.2,-0.1,0},
  xlabel={Frequency (GHz)}, ylabel={Loss (dB)},
  xlabel style={at={(axis description cs:0.5,-0.262)}},
  ylabel style={at={(axis description cs:-0.136,0.498)}, font=\cfn\fs{11}},
  xticklabel style={yshift=-8pt}, yticklabel style={xshift=-4pt},
  legend style={at={(0.484,-0.502)}, font=\cfc\fs{10.2},
    /tikz/every even column/.append style={column sep=5.5pt}}]
  \addplot[ra] table[x=x,y=a]{\tir};
  \addplot[rb] table[x=x,y=b]{\tir};
  \addplot[rc] table[x=x,y=c]{\tir};
  \addplot[rd] table[x=x,y=d]{\tir};
  \addplot[re] table[x=x,y=e]{\tir};
  \addplot[rstd, line width=1.6pt] coordinates {(0,-0.1) (3,-0.1) (3,-0.2) (6,-0.2) (6,-0.5) (12,-0.5)};
  \legend{Sample 1,Sample 2,Sample 3,Sample 4,Sample 5,Standard}
\end{axis}

% Isolation left
\begin{axis}[lch, at={(317*\pxu,-1354*\pxu)}, anchor=south west,
  width=190.5pt, height=75pt,
  ymin=-60, ymax=0, ytick={-60,-50,-40,-30,-20,-10,0},
  xlabel={Frequency (GHz)}, ylabel={Loss (dB)},
  xlabel style={at={(axis description cs:0.5,-0.307)}},
  ylabel style={at={(axis description cs:-0.144,0.493)}},
  xticklabel style={yshift=-5.5pt}, yticklabel style={xshift=-4.5pt},
  legend style={at={(0.486,-0.63)}, font=\cfa\fs{8.2},
    /tikz/every even column/.append style={column sep=4.5pt}}]
  \addplot[la, smooth] table[x=x,y=a]{\tsl};
  \addplot[lb, smooth] table[x=x,y=b]{\tsl};
  \addplot[lc, smooth] table[x=x,y=c]{\tsl};
  \addplot[ld, smooth] table[x=x,y=d]{\tsl};
  \addplot[le, smooth] table[x=x,y=e]{\tsl};
  \addplot[lstd, line width=2.5pt] coordinates {(0,-20) (3,-20) (3,-15) (6,-15)};
  \legend{Sample 1,Sample 2,Sample 3,Sample 4,Sample 5,Standard}
\end{axis}

% Isolation right
\begin{axis}[rch, at={(902*\pxu,-1382*\pxu)}, anchor=south west,
  width=180.5pt, height=103pt,
  ymin=-60, ymax=0, ytick={-60,-50,-40,-30,-20,-10,0},
  xlabel={Frequency (GHz)}, ylabel={Loss (dB)},
  xlabel style={at={(axis description cs:0.5,-0.257)}},
  ylabel style={at={(axis description cs:-0.163,0.505)}, font=\cfn\fs{11.5}},
  xticklabel style={yshift=-7pt}, yticklabel style={xshift=-4.5pt},
  legend style={at={(0.504,-0.536)}, font=\cfc\fs{9.8},
    /tikz/every even column/.append style={column sep=4.5pt}}]
  \addplot[ra] table[x=x,y=a]{\tsr};
  \addplot[rb] table[x=x,y=b]{\tsr};
  \addplot[rc] table[x=x,y=c]{\tsr};
  \addplot[rd] table[x=x,y=d]{\tsr};
  \addplot[re] table[x=x,y=e]{\tsr};
  \addplot[rstd, line width=1.6pt] coordinates {(0,-20) (3,-20) (3,-15) (6,-15) (6,-10) (12,-10)};
  \legend{Sample 1,Sample 2,Sample 3,Sample 4,Sample 5,Standard}
\end{axis}
\end{tikzpicture}
\end{document}
